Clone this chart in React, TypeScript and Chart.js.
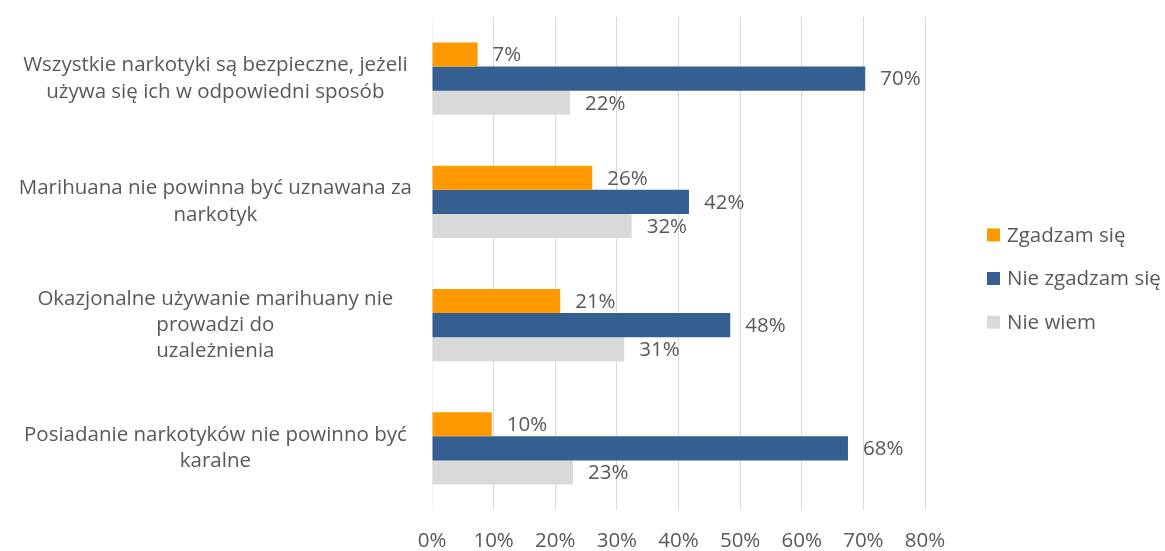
import React, { useEffect, useRef } from "react";
import { Chart, registerables } from "chart.js";

Chart.register(...registerables);

const categories: string[][] = [
  ["Wszystkie narkotyki są bezpieczne, jeżeli", "używa się ich w odpowiedni sposób"],
  ["Marihuana nie powinna być uznawana za", "narkotyk"],
  ["Okazjonalne używanie marihuany nie", "prowadzi do", "uzależnienia"],
  ["Posiadanie narkotyków nie powinno być", "karalne"],
];
const seriesNames = ["Zgadzam się", "Nie zgadzam się", "Nie wiem"];
const zgadzam = [7.4, 26, 20.8, 9.7];
const nieZgadzam = [70.3, 41.7, 48.4, 67.5];
const nieWiem = [22.4, 32.4, 31.2, 22.9];
const seriesColors = ["#FF9900", "#355F91", "#D9D9D9"];
const xMin = 0;
const xMax = 80;
const xStep = 10;

const FONT = "'Open Sans', Lato, sans-serif";
const FS = 20.5;
const TEXT = "#595959";

const dataLabels = {
  id: "dataLabels",
  afterDatasetsDraw(chart: any) {
    const ctx = chart.ctx;
    ctx.save();
    ctx.font = `${FS}px ${FONT}`;
    ctx.fillStyle = TEXT;
    ctx.textAlign = "left";
    ctx.textBaseline = "middle";
    chart.data.datasets.forEach((ds: any, i: number) => {
      const meta = chart.getDatasetMeta(i);
      meta.data.forEach((el: any, j: number) => {
        const v = ds.data[j];
        ctx.fillText(Math.round(v) + "%", el.x + 15, el.y + 1);
      });
    });
    ctx.restore();
  },
};

const customLegend = {
  id: "customLegend",
  afterDraw(chart: any) {
    const ctx = chart.ctx;
    ctx.save();
    ctx.font = `${FS}px ${FONT}`;
    ctx.textAlign = "left";
    ctx.textBaseline = "middle";
    const x0 = chart.width - 178;
    const cy = chart.height / 2 + 3;
    seriesNames.forEach((name, i) => {
      const y = cy + (i - 1) * 43.6;
      ctx.fillStyle = seriesColors[i];
      ctx.fillRect(x0, y - 6.5, 13, 13);
      ctx.fillStyle = TEXT;
      ctx.fillText(name, x0 + 20, y + 1);
    });
    ctx.restore();
  },
};

export default function App() {
  const ref = useRef<HTMLCanvasElement | null>(null);
  useEffect(() => {
    if (!ref.current) return;
    const chart = new Chart(ref.current, {
      type: "bar",
      data: {
        labels: categories,
        datasets: [
          { label: seriesNames[0], data: zgadzam, backgroundColor: seriesColors[0] },
          { label: seriesNames[1], data: nieZgadzam, backgroundColor: seriesColors[1] },
          { label: seriesNames[2], data: nieWiem, backgroundColor: seriesColors[2] },
        ],
      },
      options: {
        indexAxis: "y",
        animation: false,
        responsive: true,
        maintainAspectRatio: false,
        datasets: { bar: { categoryPercentage: 0.585, barPercentage: 1.0 } },
        layout: { padding: { top: 17, right: 240, left: 0, bottom: 0 } },
        plugins: {
          legend: { display: false },
          tooltip: { enabled: false },
        },
        scales: {
          x: {
            min: xMin,
            max: xMax,
            border: { display: false },
            grid: {
              drawTicks: false,
              color: (c: any) => (c.tick && c.tick.value === 0 ? "#F2F2F2" : "#D9D9D9"),
              lineWidth: 1,
            },
            ticks: {
              stepSize: xStep,
              padding: 19,
              color: TEXT,
              font: { family: FONT, size: FS },
              callback: (v: any) => v + "%",
            },
            afterFit: (s: any) => {
              s.height = 41;
            },
          },
          y: {
            border: { display: false },
            grid: { display: false, drawTicks: false },
            ticks: {
              crossAlign: "center",
              padding: 20,
              color: TEXT,
              font: { family: FONT, size: FS, lineHeight: 1.29 },
            },
            afterFit: (s: any) => {
              s.width = 432;
              s.paddingTop = 0;
              s.paddingBottom = 0;
            },
          },
        },
      },
      plugins: [dataLabels, customLegend],
    } as any);
    return () => chart.destroy();
  }, []);
  return (
    <div style={{ position: "absolute", left: 0, top: 0, width: 1165, height: 551, background: "#fff" }}>
      <canvas ref={ref} />
    </div>
  );
}
